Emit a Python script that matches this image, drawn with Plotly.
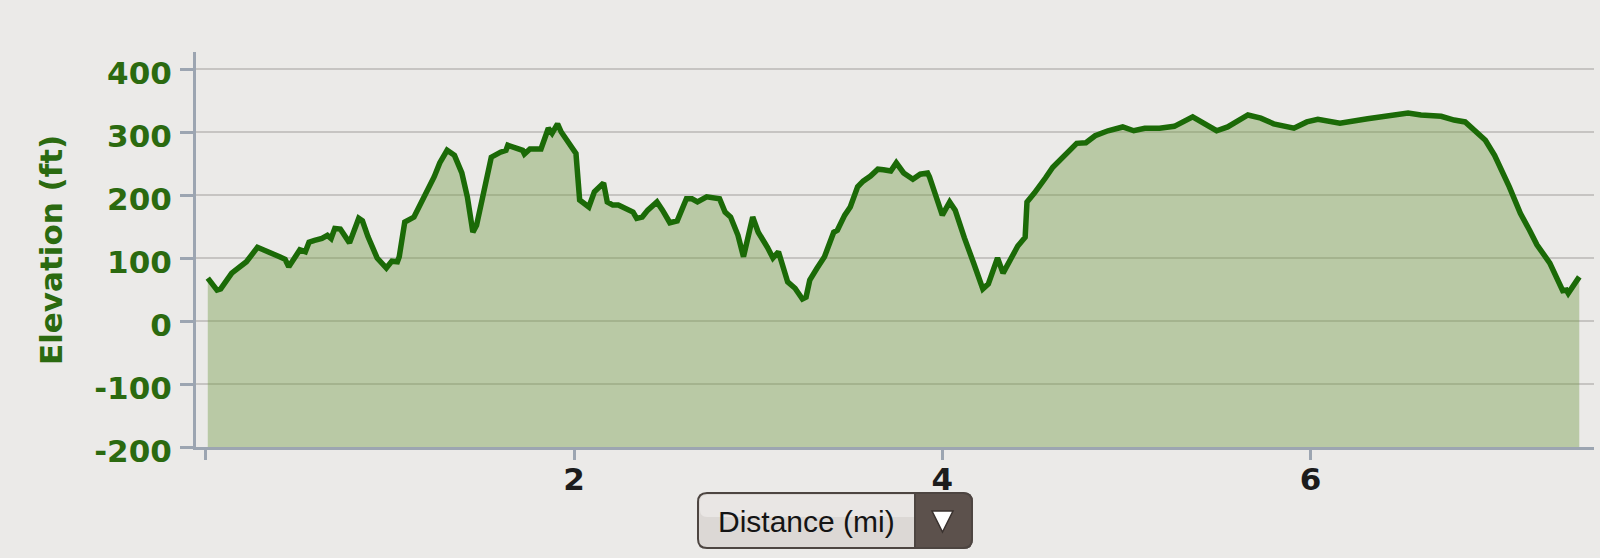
import plotly.graph_objects as go

# ---- data ----
distance_mi = [0.01, 0.06, 0.08, 0.14, 0.22, 0.28, 0.40, 0.43, 0.45, 0.51, 0.54, 0.56, 0.59, 0.63,
               0.66, 0.68, 0.70, 0.73, 0.78, 0.83, 0.85, 0.88, 0.93, 0.95, 0.98, 1.01, 1.04, 1.05,
               1.08, 1.13, 1.15, 1.22, 1.24, 1.27, 1.31, 1.35, 1.39, 1.42, 1.45, 1.47, 1.51, 1.55,
               1.60, 1.63, 1.64, 1.68, 1.72, 1.73, 1.76, 1.82, 1.86, 1.88, 1.91, 1.93, 1.96, 1.98,
               2.01, 2.03, 2.08, 2.11, 2.16, 2.18, 2.21, 2.24, 2.29, 2.32, 2.34, 2.37, 2.40, 2.45,
               2.48, 2.52, 2.56, 2.61, 2.64, 2.67, 2.72, 2.76, 2.79, 2.82, 2.85, 2.89, 2.92, 2.97,
               3.00, 3.05, 3.08, 3.11, 3.16, 3.20, 3.24, 3.26, 3.28, 3.32, 3.36, 3.41, 3.43, 3.47,
               3.50, 3.54, 3.57, 3.61, 3.65, 3.68, 3.72, 3.75, 3.79, 3.84, 3.88, 3.92, 3.93, 4.00,
               4.04, 4.07, 4.10, 4.12, 4.17, 4.22, 4.25, 4.30, 4.33, 4.36, 4.39, 4.41, 4.45, 4.46,
               4.50, 4.53, 4.56, 4.60, 4.66, 4.73, 4.78, 4.83, 4.90, 4.98, 5.04, 5.10, 5.18, 5.26,
               5.36, 5.49, 5.55, 5.66, 5.73, 5.80, 5.91, 5.98, 6.04, 6.10, 6.16, 6.31, 6.39, 6.53,
               6.60, 6.71, 6.78, 6.84, 6.95, 7.00, 7.08, 7.14, 7.19, 7.23, 7.30, 7.37, 7.39, 7.40,
               7.46]
elevation_ft = [68, 49, 51, 76, 94, 117, 102, 98, 86, 113, 110, 125, 128, 131,
                136, 131, 147, 146, 124, 163, 159, 134, 100, 94, 84, 95, 94, 102,
                157, 165, 176, 216, 229, 251, 271, 263, 235, 197, 141, 152, 208, 260,
                268, 271, 279, 276, 271, 265, 273, 273, 306, 298, 313, 300, 287, 282,
                266, 192, 181, 205, 219, 189, 184, 184, 176, 173, 163, 165, 176, 189,
                176, 156, 159, 194, 194, 189, 197, 194, 194, 173, 165, 136, 102, 165,
                141, 117, 100, 110, 62, 52, 35, 38, 65, 84, 102, 141, 144, 168,
                181, 213, 222, 230, 241, 240, 238, 251, 235, 225, 233, 235, 229, 168,
                189, 176, 148, 132, 92, 51, 59, 100, 76, 94, 110, 119, 133, 189,
                203, 214, 227, 244, 262, 282, 283, 294, 302, 308, 302, 306, 306, 309,
                324, 302, 308, 327, 322, 313, 306, 316, 320, 318, 314, 321, 325, 330,
                327, 325, 319, 316, 287, 263, 213, 171, 144, 121, 92, 48, 49, 44,
                70]

y_ticks = [-200, -100, 0, 100, 200, 300, 400]
y_tick_labels = ["-200", "-100", "0", "100", "200", "300", "400"]
x_ticks = [0, 2, 4, 6]
x_tick_labels = ["", "2", "4", "6"]
y_floor = -200
y_top = 427
x_range = [-0.054, 7.54]

# ---- styling ----
BG = "#ebeae8"
AXIS = "#9ca5b1"
GRID = "#c6c4c2"
GREEN_TXT = "#2b6a10"
LINE = "#1b6a07"
FILL = "rgba(116,155,72,0.42)"

W, H = 1600, 558
ML, MR, MT, MB = 196, 6, 52, 111
PW, PH = W - ML - MR, H - MT - MB


def px(x):
    return (x - ML) / PW


def py(y):
    return (H - MB - y) / PH


def rounded_path(x0, y0, x1, y1, r, left=True, right=True):
    rx, ry = r / PW, r / PH
    X0, X1 = px(x0), px(x1)
    Yt, Yb = py(y0), py(y1)
    p = []
    if left:
        p.append(f"M {X0 + rx},{Yt}")
    else:
        p.append(f"M {X0},{Yt}")
    if right:
        p.append(f"L {X1 - rx},{Yt} Q {X1},{Yt} {X1},{Yt - ry} L {X1},{Yb + ry} Q {X1},{Yb} {X1 - rx},{Yb}")
    else:
        p.append(f"L {X1},{Yt} L {X1},{Yb}")
    if left:
        p.append(f"L {X0 + rx},{Yb} Q {X0},{Yb} {X0},{Yb + ry} L {X0},{Yt - ry} Q {X0},{Yt} {X0 + rx},{Yt}")
    else:
        p.append(f"L {X0},{Yb}")
    p.append("Z")
    return " ".join(p)


fig = go.Figure()
fig.add_trace(go.Scatter(x=[distance_mi[0], distance_mi[-1]], y=[y_floor, y_floor],
                         mode="lines", line=dict(width=0, color="rgba(0,0,0,0)"),
                         showlegend=False, hoverinfo="skip"))
fig.add_trace(go.Scatter(x=distance_mi, y=elevation_ft, mode="lines",
                         line=dict(color=LINE, width=5.5), fill="tonexty", fillcolor=FILL,
                         showlegend=False, name="Elevation"))

tick_font = dict(family="DejaVu Sans", size=31, weight="bold")

fig.update_layout(
    width=W, height=H,
    margin=dict(l=ML, r=MR, t=MT, b=MB, pad=0),
    paper_bgcolor=BG, plot_bgcolor=BG,
    showlegend=False,
    xaxis=dict(range=x_range, tickvals=x_ticks, ticktext=x_tick_labels,
               showgrid=False, zeroline=False, showline=True, linecolor=AXIS, linewidth=3,
               ticks="outside", ticklen=10, tickwidth=3, tickcolor=AXIS,
               ticklabelstandoff=-7,
               tickfont=dict(color="#1c1c1c", **tick_font), fixedrange=True),
    yaxis=dict(range=[y_floor, y_top], tickvals=y_ticks, ticktext=y_tick_labels,
               showgrid=True, gridcolor=GRID, gridwidth=2, zeroline=False,
               showline=True, linecolor=AXIS, linewidth=3,
               ticks="outside", ticklen=13, tickwidth=3, tickcolor=AXIS,
               ticklabelstandoff=2, ticklabelshift=4,
               tickfont=dict(color=GREEN_TXT, **tick_font), fixedrange=True),
)

fig.add_annotation(text="Elevation (ft)", xref="paper", yref="paper",
                   x=px(51), y=py(250), textangle=-90, showarrow=False,
                   xanchor="center", yanchor="middle",
                   font=dict(family="DejaVu Sans", size=31, weight="bold", color=GREEN_TXT))

# dropdown-style control
bx0, by0, bx1, by1, bdiv = 698, 493, 972, 548, 915
fig.add_shape(type="path", xref="paper", yref="paper",
              path=rounded_path(bx0, by0, bx1, by1, 9),
              fillcolor="#dcd8d5", line=dict(color="#4d4541", width=2))
fig.add_shape(type="path", xref="paper", yref="paper",
              path=rounded_path(bx0 + 2, by0 + 2, bdiv, by0 + 24, 7, right=False),
              fillcolor="#e9e6e4", line=dict(width=0))
fig.add_shape(type="path", xref="paper", yref="paper",
              path=rounded_path(bdiv, by0, bx1, by1, 9, left=False),
              fillcolor="#5c514c", line=dict(color="#4d4541", width=2))
fig.add_shape(type="path", xref="paper", yref="paper",
              path=f"M {px(932)},{py(511)} L {px(953)},{py(511)} L {px(942.5)},{py(532)} Z",
              fillcolor="#ffffff", line=dict(color="#3a322f", width=1.5))
fig.add_annotation(text="Distance (mi)", xref="paper", yref="paper",
                   x=px(806), y=py(521), showarrow=False, xanchor="center", yanchor="middle",
                   font=dict(family="Liberation Sans", size=30, color="#141414"))

fig.write_html("out.html",
               config={"displayModeBar": False},
               post_script="document.body.style.margin='0';document.body.style.padding='0';"
                           "document.body.style.overflow='hidden';"
                           "document.body.style.background='#ebeae8';")
